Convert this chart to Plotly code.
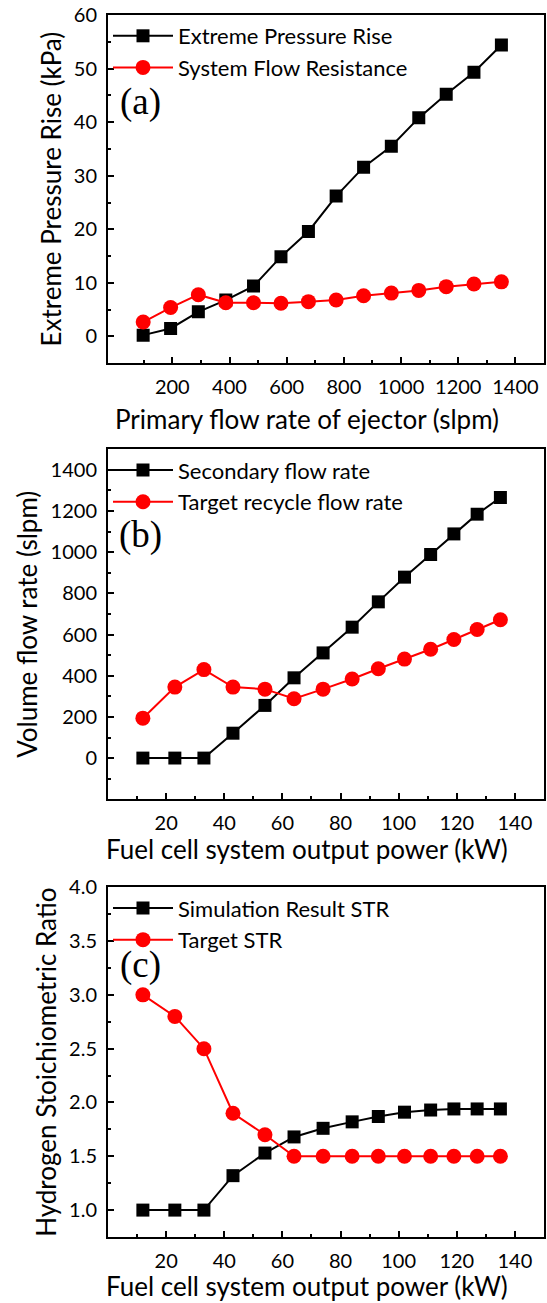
import plotly.graph_objects as go

# ---------------- data ----------------
primary_flow = [98, 194, 291, 387, 484, 580, 676, 773, 869, 966, 1062, 1158, 1255, 1351]
extreme_pressure_rise = [0.25, 1.5, 4.6, 6.8, 9.4, 14.9, 19.6, 26.2, 31.6, 35.5, 40.8, 45.2, 49.3, 54.4]
system_flow_resistance = [2.7, 5.4, 7.8, 6.3, 6.3, 6.2, 6.5, 6.8, 7.6, 8.1, 8.6, 9.3, 9.8, 10.2]

power_kw = [12, 23, 33, 43, 54, 64, 74, 84, 93, 102, 111, 119, 127, 135]
secondary_flow = [0, 0, 0, 121, 256, 390, 511, 636, 759, 879, 989, 1089, 1185, 1266]
target_recycle_flow = [194, 345, 430, 345, 335, 288, 335, 384, 434, 481, 529, 576, 625, 672]

sim_str = [1.0, 1.0, 1.0, 1.32, 1.53, 1.68, 1.76, 1.82, 1.87, 1.91, 1.93, 1.94, 1.94, 1.94]
target_str = [3.0, 2.8, 2.5, 1.9, 1.7, 1.5, 1.5, 1.5, 1.5, 1.5, 1.5, 1.5, 1.5, 1.5]

xa_ticks = [200, 400, 600, 800, 1000, 1200, 1400]
xa_minor = [100, 300, 500, 700, 900, 1100, 1300]
ya_ticks = [0, 10, 20, 30, 40, 50, 60]
ya_minor = [-5, 5, 15, 25, 35, 45, 55]
xp_ticks = [20, 40, 60, 80, 100, 120, 140]
xp_minor = [10, 30, 50, 70, 90, 110, 130]
yb_ticks = [0, 200, 400, 600, 800, 1000, 1200, 1400]
yb_minor = [-100, 100, 300, 500, 700, 900, 1100, 1300]
yc_ticks = [1.0, 1.5, 2.0, 2.5, 3.0, 3.5, 4.0]
yc_minor = [1.25, 1.75, 2.25, 2.75, 3.25, 3.75]

FONT = "Lato"
TICK_SIZE = 20
TITLE_SIZE = 26
LEG_SIZE = 22

fig = go.Figure()


def add_pair(x, y1, y2, n1, n2, xa, ya, leg):
    fig.add_trace(go.Scatter(
        x=x, y=y1, name=n1, mode="lines+markers", xaxis=xa, yaxis=ya, legend=leg,
        legendgroup=leg + "1",
        line=dict(color="black", width=2),
        marker=dict(symbol="square", size=13, color="black")))
    fig.add_trace(go.Scatter(
        x=x, y=y2, name=n2, mode="lines+markers", xaxis=xa, yaxis=ya, legend=leg,
        legendgroup=leg + "2",
        line=dict(color="red", width=2),
        marker=dict(symbol="circle", size=15, color="red")))


add_pair(primary_flow, extreme_pressure_rise, system_flow_resistance,
         "Extreme Pressure Rise", "System Flow Resistance", "x", "y", "legend")
add_pair(power_kw, secondary_flow, target_recycle_flow,
         "Secondary flow rate", "Target recycle flow rate", "x2", "y2", "legend2")
add_pair(power_kw, sim_str, target_str,
         "Simulation Result STR", "Target STR", "x3", "y3", "legend3")


def axis_common():
    return dict(
        showline=True, linecolor="black", linewidth=2, mirror=True,
        ticks="inside", ticklen=6, tickwidth=2, tickcolor="black",
        showgrid=False, zeroline=False,
        tickfont=dict(family=FONT, size=TICK_SIZE, color="black"),
        ticklabelstandoff=5,
    )


def xaxis(anchor, rng, ticks, minor):
    d = axis_common()
    d.update(anchor=anchor, domain=[0, 1], range=rng, tickmode="array", tickvals=ticks,
             minor=dict(tickmode="array", tickvals=minor, ticks="inside", ticklen=3,
                        tickwidth=2, tickcolor="black", showgrid=False))
    return d


def yaxis(anchor, dom, rng, ticks, minor, title, fmt=None):
    d = axis_common()
    d.update(anchor=anchor, domain=dom, range=rng, tickmode="array", tickvals=ticks,
             minor=dict(tickmode="array", tickvals=minor, ticks="inside", ticklen=3,
                        tickwidth=2, tickcolor="black", showgrid=False),
             title=dict(text=title, font=dict(family=FONT, size=TITLE_SIZE, color="black"),
                        standoff=5))
    if fmt:
        d["tickformat"] = fmt
    return d


legend_common = dict(
    x=0.0, y=1.0, xanchor="left", yanchor="top",
    bgcolor="rgba(0,0,0,0)", borderwidth=0,
    font=dict(family=FONT, size=LEG_SIZE, color="black"),
    tracegroupgap=0, itemwidth=60,
)

fig.update_layout(
    width=547, height=1303,
    margin=dict(l=108, r=1, t=15, b=66),
    plot_bgcolor="white", paper_bgcolor="white",
    showlegend=True,
    xaxis=xaxis("y", [-25, 1500], xa_ticks, xa_minor),
    yaxis=yaxis("x", [0.715, 1.0], [-5, 60], ya_ticks, ya_minor, "Extreme Pressure Rise (kPa)"),
    xaxis2=xaxis("y2", [0, 150], xp_ticks, xp_minor),
    yaxis2=yaxis("x2", [0.3582, 0.6446], [-200, 1500], yb_ticks, yb_minor, "Volume flow rate (slpm)"),
    xaxis3=xaxis("y3", [0, 150], xp_ticks, xp_minor),
    yaxis3=yaxis("x3", [0, 0.2862], [0.75, 4.0], yc_ticks, yc_minor, "Hydrogen Stoichiometric Ratio", ".1f"),
    legend=dict(legend_common, x=0.0, y=1.0),
    legend2=dict(legend_common, x=0.0, y=0.6446),
    legend3=dict(legend_common, x=0.0, y=0.2862),
)

# x-axis titles (slightly left of axis centre, as in the original)
for txt, xr, yr, ys in [("Primary flow rate of ejector (slpm)", "x domain", "y domain", -38),
                        ("Fuel cell system output power (kW)", "x2 domain", "y2 domain", -32),
                        ("Fuel cell system output power (kW)", "x3 domain", "y3 domain", -31)]:
    fig.add_annotation(text=txt, xref=xr, yref=yr, x=0.4566, y=0, xanchor="center",
                       yanchor="top", yshift=ys, showarrow=False,
                       font=dict(family=FONT, size=TITLE_SIZE, color="black"))

for lbl, yref, yv in [("(a)", "y domain", 0.75), ("(b)", "y2 domain", 0.754), ("(c)", "y3 domain", 0.777)]:
    fig.add_annotation(text=lbl, xref=yref.replace("y", "x"), yref=yref, x=0.074, y=yv,
                       xanchor="center", yanchor="middle", showarrow=False,
                       font=dict(family="Liberation Serif", size=37, color="black"))

fig.write_html("out.html")
